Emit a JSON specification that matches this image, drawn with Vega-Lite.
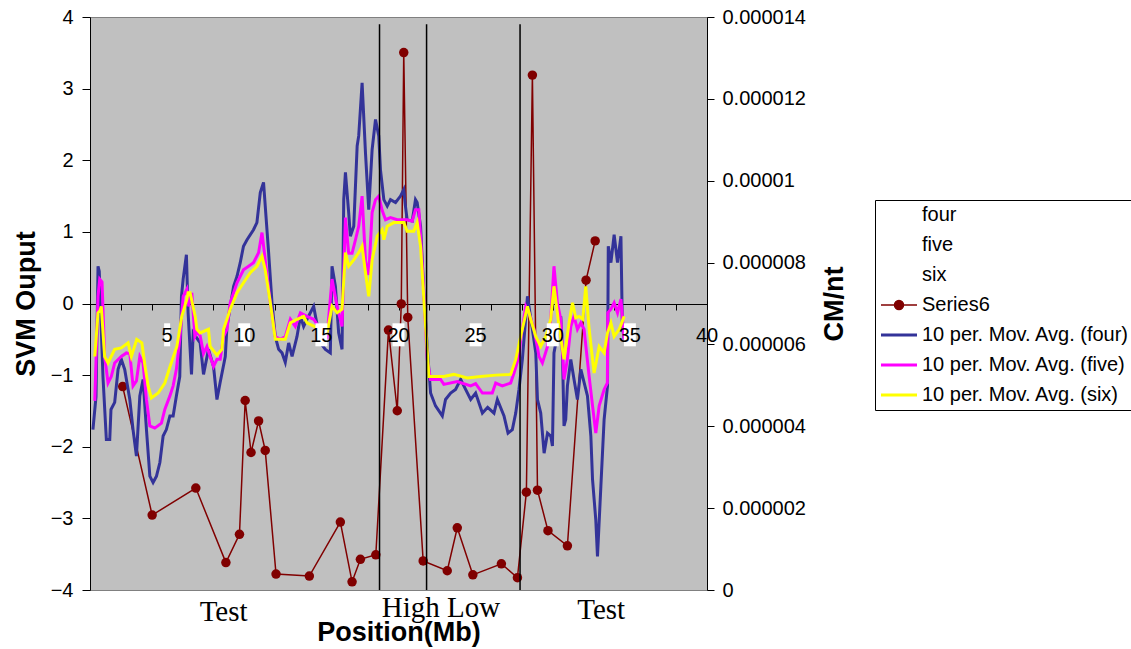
{
"$schema": "https://vega.github.io/schema/vega-lite/v6.json",
"width": 617, "height": 573,
"autosize": {"type": "none"},
"padding": {"left": 90, "top": 17, "right": 424, "bottom": 59},
"background": "white",
"config": {
 "view": {"fill": "#C0C0C0", "stroke": "#808080", "strokeWidth": 1},
 "font": "Liberation Sans",
 "axis": {"labelFont": "Liberation Sans", "titleFont": "Liberation Sans", "labelColor": "black", "titleColor": "black", "tickColor": "black", "domainColor": "black", "labelFlush": false, "labelOverlap": false},
 "axisX": {"offset": -286, "values": [5, 10, 15, 20, 25, 30, 35, 40], "labels": false, "tickSize": 6, "grid": false, "titleFontSize": 27, "titleFontWeight": "bold", "titleY": 336, "titleBaseline": "alphabetic"},
 "axisLeft": {"titleFontSize": 27, "titleFontWeight": "bold", "titlePadding": 10, "labelFontSize": 20, "tickSize": 8, "labelPadding": 9, "grid": true, "gridWidth": 1},
 "legend": {"orient": "none", "legendX": 785, "legendY": 183, "title": null, "symbolType": "stroke", "symbolSize": 144, "symbolStrokeWidth": 3, "labelFont": "Liberation Sans", "labelFontSize": 20, "labelColor": "black", "labelLimit": 500, "labelOffset": 13, "strokeColor": "black", "fillColor": "white", "padding": 5, "rowPadding": 10, "symbolOffset": 9}
},
"datasets": {
 "s6": [
  {"x":2.12,"cm":0.00000497},{"x":4.03,"cm":0.00000183},{"x":6.86,"cm":0.00000249},{"x":8.81,"cm":0.00000067},{"x":9.69,"cm":0.00000136},{"x":10.06,"cm":0.00000463},{"x":10.44,"cm":0.00000336},{"x":10.93,"cm":0.00000413},{"x":11.36,"cm":0.00000341},{"x":12.06,"cm":0.00000039},{"x":14.22,"cm":0.00000034},{"x":16.23,"cm":0.00000166},{"x":16.99,"cm":0.0000002},{"x":17.53,"cm":0.00000075},{"x":18.53,"cm":0.00000086},{"x":19.35,"cm":0.00000635},{"x":19.92,"cm":0.00000438},{"x":20.18,"cm":0.00000699},{"x":20.34,"cm":0.00001313},{"x":20.6,"cm":0.00000666},{"x":21.6,"cm":0.00000071},{"x":23.16,"cm":0.00000047},{"x":23.81,"cm":0.00000152},{"x":24.82,"cm":0.00000037},{"x":26.67,"cm":0.00000064},{"x":27.71,"cm":0.0000003},{"x":28.29,"cm":0.00000239},{"x":28.68,"cm":0.00001258},{"x":29.01,"cm":0.00000244},{"x":29.69,"cm":0.00000145},{"x":30.95,"cm":0.00000108},{"x":32.16,"cm":0.00000757},{"x":32.75,"cm":0.00000853}
 ],
 "ma": [
  {"s":"ma4","x":0.19,"y":-1.76},{"s":"ma4","x":0.39,"y":-1.3},{"s":"ma4","x":0.52,"y":0.52},{"s":"ma4","x":0.6,"y":0.45},{"s":"ma4","x":0.84,"y":-1.02},{"s":"ma4","x":1.06,"y":-1.9},{"s":"ma4","x":1.28,"y":-1.9},{"s":"ma4","x":1.36,"y":-1.48},{"s":"ma4","x":1.6,"y":-1.38},{"s":"ma4","x":1.82,"y":-0.92},{"s":"ma4","x":2.03,"y":-0.78},{"s":"ma4","x":2.25,"y":-0.92},{"s":"ma4","x":2.58,"y":-1.34},{"s":"ma4","x":2.79,"y":-1.76},{"s":"ma4","x":3.01,"y":-2.13},{"s":"ma4","x":3.23,"y":-1.29},{"s":"ma4","x":3.44,"y":-1.06},{"s":"ma4","x":3.66,"y":-1.76},{"s":"ma4","x":3.88,"y":-2.41},{"s":"ma4","x":4.09,"y":-2.5},{"s":"ma4","x":4.31,"y":-2.41},{"s":"ma4","x":4.53,"y":-2.22},{"s":"ma4","x":4.74,"y":-1.85},{"s":"ma4","x":4.95,"y":-1.76},{"s":"ma4","x":5.18,"y":-1.57},{"s":"ma4","x":5.39,"y":-1.57},{"s":"ma4","x":5.6,"y":-1.29},{"s":"ma4","x":5.82,"y":-1.02},{"s":"ma4","x":5.93,"y":0.1},{"s":"ma4","x":6.04,"y":0.34},{"s":"ma4","x":6.25,"y":0.68},{"s":"ma4","x":6.36,"y":-0.13},{"s":"ma4","x":6.58,"y":-0.99},{"s":"ma4","x":6.69,"y":-0.41},{"s":"ma4","x":7.14,"y":-0.55},{"s":"ma4","x":7.36,"y":-0.99},{"s":"ma4","x":7.68,"y":-0.64},{"s":"ma4","x":8.01,"y":-0.88},{"s":"ma4","x":8.23,"y":-1.34},{"s":"ma4","x":8.44,"y":-1.1},{"s":"ma4","x":8.77,"y":-0.74},{"s":"ma4","x":8.88,"y":-0.32},{"s":"ma4","x":9.31,"y":0.24},{"s":"ma4","x":9.53,"y":0.38},{"s":"ma4","x":9.74,"y":0.57},{"s":"ma4","x":9.95,"y":0.8},{"s":"ma4","x":10.18,"y":0.89},{"s":"ma4","x":10.6,"y":1.03},{"s":"ma4","x":10.82,"y":1.13},{"s":"ma4","x":11.04,"y":1.55},{"s":"ma4","x":11.25,"y":1.69},{"s":"ma4","x":11.58,"y":0.71},{"s":"ma4","x":11.8,"y":0.01},{"s":"ma4","x":12.01,"y":-0.46},{"s":"ma4","x":12.23,"y":-0.64},{"s":"ma4","x":12.45,"y":-0.69},{"s":"ma4","x":12.66,"y":-0.82},{"s":"ma4","x":12.88,"y":-0.55},{"s":"ma4","x":13.1,"y":-0.74},{"s":"ma4","x":13.42,"y":-0.46},{"s":"ma4","x":13.64,"y":-0.18},{"s":"ma4","x":13.85,"y":-0.32},{"s":"ma4","x":14.07,"y":-0.22},{"s":"ma4","x":14.5,"y":-0.04},{"s":"ma4","x":14.94,"y":-0.55},{"s":"ma4","x":15.26,"y":-0.64},{"s":"ma4","x":15.58,"y":-0.69},{"s":"ma4","x":15.69,"y":0.52},{"s":"ma4","x":15.91,"y":0.24},{"s":"ma4","x":16.12,"y":-0.41},{"s":"ma4","x":16.34,"y":-0.64},{"s":"ma4","x":16.45,"y":1.45},{"s":"ma4","x":16.56,"y":1.83},{"s":"ma4","x":16.77,"y":1.27},{"s":"ma4","x":16.88,"y":0.94},{"s":"ma4","x":17.1,"y":1.08},{"s":"ma4","x":17.32,"y":2.2},{"s":"ma4","x":17.42,"y":2.34},{"s":"ma4","x":17.64,"y":3.08},{"s":"ma4","x":17.86,"y":2.1},{"s":"ma4","x":18.07,"y":1.31},{"s":"ma4","x":18.29,"y":2.15},{"s":"ma4","x":18.51,"y":2.57},{"s":"ma4","x":18.72,"y":2.34},{"s":"ma4","x":18.83,"y":1.87},{"s":"ma4","x":19.05,"y":1.45},{"s":"ma4","x":19.27,"y":1.36},{"s":"ma4","x":19.48,"y":1.45},{"s":"ma4","x":19.81,"y":1.41},{"s":"ma4","x":20.13,"y":1.5},{"s":"ma4","x":20.34,"y":1.59},{"s":"ma4","x":20.45,"y":1.36},{"s":"ma4","x":20.56,"y":1.17},{"s":"ma4","x":20.89,"y":1.15},{"s":"ma4","x":21.1,"y":1.45},{"s":"ma4","x":21.21,"y":1.41},{"s":"ma4","x":21.43,"y":1.08},{"s":"ma4","x":21.64,"y":0.15},{"s":"ma4","x":21.86,"y":-0.6},{"s":"ma4","x":22.08,"y":-1.25},{"s":"ma4","x":22.4,"y":-1.43},{"s":"ma4","x":22.84,"y":-1.57},{"s":"ma4","x":23.05,"y":-1.34},{"s":"ma4","x":23.38,"y":-1.25},{"s":"ma4","x":23.7,"y":-1.2},{"s":"ma4","x":24.03,"y":-1.06},{"s":"ma4","x":24.35,"y":-1.2},{"s":"ma4","x":24.68,"y":-1.34},{"s":"ma4","x":25.0,"y":-1.25},{"s":"ma4","x":25.44,"y":-1.53},{"s":"ma4","x":25.78,"y":-1.45},{"s":"ma4","x":26.19,"y":-1.53},{"s":"ma4","x":26.41,"y":-1.34},{"s":"ma4","x":26.84,"y":-1.57},{"s":"ma4","x":27.1,"y":-1.81},{"s":"ma4","x":27.38,"y":-1.76},{"s":"ma4","x":27.6,"y":-1.53},{"s":"ma4","x":27.81,"y":-1.2},{"s":"ma4","x":28.03,"y":-0.78},{"s":"ma4","x":28.36,"y":0.1},{"s":"ma4","x":28.68,"y":-0.36},{"s":"ma4","x":28.9,"y":-0.69},{"s":"ma4","x":29.01,"y":-1.34},{"s":"ma4","x":29.22,"y":-1.53},{"s":"ma4","x":29.44,"y":-2.09},{"s":"ma4","x":29.66,"y":-1.81},{"s":"ma4","x":29.87,"y":-1.85},{"s":"ma4","x":29.98,"y":-1.99},{"s":"ma4","x":30.08,"y":-0.69},{"s":"ma4","x":30.52,"y":-0.18},{"s":"ma4","x":30.63,"y":-0.69},{"s":"ma4","x":30.73,"y":-1.71},{"s":"ma4","x":30.84,"y":-1.62},{"s":"ma4","x":30.95,"y":-1.15},{"s":"ma4","x":31.17,"y":-0.78},{"s":"ma4","x":31.38,"y":-1.06},{"s":"ma4","x":31.6,"y":-1.34},{"s":"ma4","x":31.82,"y":-0.92},{"s":"ma4","x":32.25,"y":-1.29},{"s":"ma4","x":32.47,"y":-1.85},{"s":"ma4","x":32.58,"y":-2.46},{"s":"ma4","x":32.79,"y":-3.02},{"s":"ma4","x":32.9,"y":-3.53},{"s":"ma4","x":33.12,"y":-2.55},{"s":"ma4","x":33.33,"y":-1.62},{"s":"ma4","x":33.55,"y":-1.15},{"s":"ma4","x":33.6,"y":0.8},{"s":"ma4","x":33.77,"y":0.57},{"s":"ma4","x":33.98,"y":0.96},{"s":"ma4","x":34.2,"y":0.57},{"s":"ma4","x":34.42,"y":0.94},{"s":"ma4","x":34.51,"y":-0.3},{"s":"ma4","x":34.63,"y":-0.5},
  {"s":"ma5","x":0.31,"y":-1.36},{"s":"ma5","x":0.52,"y":0.1},{"s":"ma5","x":0.63,"y":0.34},{"s":"ma5","x":0.78,"y":0.3},{"s":"ma5","x":0.95,"y":-0.74},{"s":"ma5","x":1.17,"y":-1.11},{"s":"ma5","x":1.38,"y":-1.02},{"s":"ma5","x":1.6,"y":-0.83},{"s":"ma5","x":2.03,"y":-0.74},{"s":"ma5","x":2.36,"y":-0.69},{"s":"ma5","x":2.58,"y":-0.7},{"s":"ma5","x":2.79,"y":-1.15},{"s":"ma5","x":3.01,"y":-1.08},{"s":"ma5","x":3.23,"y":-0.74},{"s":"ma5","x":3.44,"y":-0.83},{"s":"ma5","x":3.66,"y":-1.34},{"s":"ma5","x":3.88,"y":-1.71},{"s":"ma5","x":4.2,"y":-1.74},{"s":"ma5","x":4.63,"y":-1.67},{"s":"ma5","x":4.85,"y":-1.48},{"s":"ma5","x":5.18,"y":-1.29},{"s":"ma5","x":5.39,"y":-1.15},{"s":"ma5","x":5.6,"y":-0.92},{"s":"ma5","x":5.82,"y":-0.5},{"s":"ma5","x":6.04,"y":0.1},{"s":"ma5","x":6.28,"y":0.2},{"s":"ma5","x":6.4,"y":-0.04},{"s":"ma5","x":6.6,"y":0.15},{"s":"ma5","x":6.8,"y":-0.46},{"s":"ma5","x":6.93,"y":-0.4},{"s":"ma5","x":7.14,"y":-0.45},{"s":"ma5","x":7.36,"y":-0.7},{"s":"ma5","x":7.58,"y":-0.6},{"s":"ma5","x":7.79,"y":-0.74},{"s":"ma5","x":8.01,"y":-0.88},{"s":"ma5","x":8.23,"y":-0.78},{"s":"ma5","x":8.44,"y":-0.78},{"s":"ma5","x":8.66,"y":-0.46},{"s":"ma5","x":8.88,"y":-0.36},{"s":"ma5","x":9.09,"y":0.01},{"s":"ma5","x":9.53,"y":0.29},{"s":"ma5","x":9.95,"y":0.47},{"s":"ma5","x":10.28,"y":0.52},{"s":"ma5","x":10.6,"y":0.57},{"s":"ma5","x":10.93,"y":0.71},{"s":"ma5","x":11.15,"y":0.99},{"s":"ma5","x":11.36,"y":0.61},{"s":"ma5","x":11.69,"y":0.01},{"s":"ma5","x":12.01,"y":-0.46},{"s":"ma5","x":12.34,"y":-0.5},{"s":"ma5","x":12.66,"y":-0.46},{"s":"ma5","x":12.99,"y":-0.22},{"s":"ma5","x":13.31,"y":-0.32},{"s":"ma5","x":13.64,"y":-0.13},{"s":"ma5","x":14.07,"y":-0.18},{"s":"ma5","x":14.5,"y":-0.22},{"s":"ma5","x":14.94,"y":-0.36},{"s":"ma5","x":15.37,"y":-0.46},{"s":"ma5","x":15.69,"y":0.34},{"s":"ma5","x":16.02,"y":-0.04},{"s":"ma5","x":16.34,"y":-0.32},{"s":"ma5","x":16.56,"y":1.2},{"s":"ma5","x":16.77,"y":0.7},{"s":"ma5","x":16.99,"y":0.7},{"s":"ma5","x":17.21,"y":0.89},{"s":"ma5","x":17.42,"y":1.08},{"s":"ma5","x":17.64,"y":1.5},{"s":"ma5","x":17.86,"y":0.6},{"s":"ma5","x":18.07,"y":0.4},{"s":"ma5","x":18.29,"y":1.27},{"s":"ma5","x":18.51,"y":1.45},{"s":"ma5","x":18.72,"y":1.5},{"s":"ma5","x":18.94,"y":1.3},{"s":"ma5","x":19.16,"y":1.17},{"s":"ma5","x":19.48,"y":1.2},{"s":"ma5","x":19.92,"y":1.17},{"s":"ma5","x":20.56,"y":1.17},{"s":"ma5","x":20.89,"y":1.15},{"s":"ma5","x":21.1,"y":1.31},{"s":"ma5","x":21.32,"y":1.31},{"s":"ma5","x":21.43,"y":0.94},{"s":"ma5","x":21.64,"y":0.15},{"s":"ma5","x":21.86,"y":-0.78},{"s":"ma5","x":22.08,"y":-1.06},{"s":"ma5","x":22.73,"y":-1.06},{"s":"ma5","x":22.94,"y":-1.13},{"s":"ma5","x":23.81,"y":-1.09},{"s":"ma5","x":24.68,"y":-1.15},{"s":"ma5","x":25.0,"y":-1.12},{"s":"ma5","x":25.44,"y":-1.25},{"s":"ma5","x":26.08,"y":-1.25},{"s":"ma5","x":26.3,"y":-1.11},{"s":"ma5","x":26.73,"y":-1.15},{"s":"ma5","x":27.27,"y":-1.11},{"s":"ma5","x":27.49,"y":-0.97},{"s":"ma5","x":27.81,"y":-0.74},{"s":"ma5","x":27.92,"y":-0.5},{"s":"ma5","x":28.25,"y":-0.04},{"s":"ma5","x":28.46,"y":-0.13},{"s":"ma5","x":28.79,"y":-0.36},{"s":"ma5","x":29.11,"y":-0.74},{"s":"ma5","x":29.33,"y":-0.83},{"s":"ma5","x":29.66,"y":-0.6},{"s":"ma5","x":29.87,"y":-0.22},{"s":"ma5","x":30.08,"y":0.52},{"s":"ma5","x":30.3,"y":0.01},{"s":"ma5","x":30.52,"y":-0.22},{"s":"ma5","x":30.73,"y":-1.06},{"s":"ma5","x":30.95,"y":-0.78},{"s":"ma5","x":31.17,"y":-0.32},{"s":"ma5","x":31.38,"y":-0.18},{"s":"ma5","x":31.6,"y":-0.36},{"s":"ma5","x":31.82,"y":-0.27},{"s":"ma5","x":32.03,"y":-0.36},{"s":"ma5","x":32.36,"y":-1.02},{"s":"ma5","x":32.58,"y":-1.43},{"s":"ma5","x":32.79,"y":-1.81},{"s":"ma5","x":33.01,"y":-1.43},{"s":"ma5","x":33.33,"y":-1.2},{"s":"ma5","x":33.54,"y":-1.11},{"s":"ma5","x":33.57,"y":-0.13},{"s":"ma5","x":33.77,"y":-0.08},{"s":"ma5","x":33.98,"y":0.01},{"s":"ma5","x":34.2,"y":-0.13},{"s":"ma5","x":34.42,"y":0.06},{"s":"ma5","x":34.63,"y":-0.5},
  {"s":"ma6","x":0.31,"y":-0.74},{"s":"ma6","x":0.52,"y":-0.13},{"s":"ma6","x":0.65,"y":-0.1},{"s":"ma6","x":0.73,"y":-0.04},{"s":"ma6","x":0.95,"y":-0.74},{"s":"ma6","x":1.17,"y":-0.83},{"s":"ma6","x":1.6,"y":-0.64},{"s":"ma6","x":2.03,"y":-0.62},{"s":"ma6","x":2.47,"y":-0.55},{"s":"ma6","x":2.68,"y":-0.74},{"s":"ma6","x":3.03,"y":-0.5},{"s":"ma6","x":3.36,"y":-0.55},{"s":"ma6","x":3.57,"y":-0.88},{"s":"ma6","x":3.77,"y":-1.15},{"s":"ma6","x":3.98,"y":-1.32},{"s":"ma6","x":4.42,"y":-1.25},{"s":"ma6","x":4.85,"y":-1.11},{"s":"ma6","x":5.19,"y":-0.88},{"s":"ma6","x":5.63,"y":-0.6},{"s":"ma6","x":5.95,"y":-0.18},{"s":"ma6","x":6.28,"y":0.06},{"s":"ma6","x":6.36,"y":0.15},{"s":"ma6","x":6.49,"y":0.15},{"s":"ma6","x":6.82,"y":-0.18},{"s":"ma6","x":6.93,"y":-0.36},{"s":"ma6","x":7.14,"y":-0.41},{"s":"ma6","x":7.68,"y":-0.36},{"s":"ma6","x":7.79,"y":-0.6},{"s":"ma6","x":8.23,"y":-0.72},{"s":"ma6","x":8.55,"y":-0.64},{"s":"ma6","x":8.66,"y":-0.36},{"s":"ma6","x":9.09,"y":-0.08},{"s":"ma6","x":9.53,"y":0.15},{"s":"ma6","x":9.95,"y":0.29},{"s":"ma6","x":10.39,"y":0.43},{"s":"ma6","x":10.82,"y":0.52},{"s":"ma6","x":11.15,"y":0.66},{"s":"ma6","x":11.36,"y":0.47},{"s":"ma6","x":11.69,"y":0.01},{"s":"ma6","x":12.01,"y":-0.5},{"s":"ma6","x":12.66,"y":-0.5},{"s":"ma6","x":12.99,"y":-0.27},{"s":"ma6","x":13.42,"y":-0.22},{"s":"ma6","x":13.85,"y":-0.18},{"s":"ma6","x":14.07,"y":-0.27},{"s":"ma6","x":14.94,"y":-0.36},{"s":"ma6","x":15.37,"y":-0.41},{"s":"ma6","x":15.69,"y":-0.04},{"s":"ma6","x":16.02,"y":-0.13},{"s":"ma6","x":16.34,"y":-0.08},{"s":"ma6","x":16.56,"y":0.71},{"s":"ma6","x":16.77,"y":0.52},{"s":"ma6","x":17.1,"y":0.61},{"s":"ma6","x":17.42,"y":0.71},{"s":"ma6","x":17.64,"y":0.8},{"s":"ma6","x":17.86,"y":0.43},{"s":"ma6","x":18.07,"y":0.1},{"s":"ma6","x":18.29,"y":0.61},{"s":"ma6","x":18.62,"y":0.94},{"s":"ma6","x":18.94,"y":1.03},{"s":"ma6","x":19.05,"y":0.89},{"s":"ma6","x":19.27,"y":1.08},{"s":"ma6","x":19.7,"y":1.13},{"s":"ma6","x":20.34,"y":1.13},{"s":"ma6","x":20.56,"y":1.01},{"s":"ma6","x":20.99,"y":1.01},{"s":"ma6","x":21.21,"y":1.13},{"s":"ma6","x":21.43,"y":0.8},{"s":"ma6","x":21.69,"y":-0.1},{"s":"ma6","x":21.97,"y":-1.02},{"s":"ma6","x":22.94,"y":-1.02},{"s":"ma6","x":23.59,"y":-0.99},{"s":"ma6","x":24.46,"y":-1.04},{"s":"ma6","x":25.32,"y":-1.02},{"s":"ma6","x":26.3,"y":-1.0},{"s":"ma6","x":27.27,"y":-0.99},{"s":"ma6","x":27.6,"y":-0.78},{"s":"ma6","x":27.92,"y":-0.46},{"s":"ma6","x":28.36,"y":-0.04},{"s":"ma6","x":28.57,"y":-0.22},{"s":"ma6","x":28.9,"y":-0.46},{"s":"ma6","x":29.22,"y":-0.6},{"s":"ma6","x":29.55,"y":-0.46},{"s":"ma6","x":29.87,"y":-0.22},{"s":"ma6","x":30.08,"y":0.24},{"s":"ma6","x":30.41,"y":-0.32},{"s":"ma6","x":30.73,"y":-0.78},{"s":"ma6","x":31.06,"y":-0.27},{"s":"ma6","x":31.28,"y":0.01},{"s":"ma6","x":31.49,"y":-0.2},{"s":"ma6","x":31.71,"y":-0.18},{"s":"ma6","x":31.95,"y":-0.22},{"s":"ma6","x":32.14,"y":0.24},{"s":"ma6","x":32.36,"y":-0.36},{"s":"ma6","x":32.68,"y":-0.97},{"s":"ma6","x":33.01,"y":-0.6},{"s":"ma6","x":33.33,"y":-0.69},{"s":"ma6","x":33.55,"y":-0.41},{"s":"ma6","x":33.77,"y":-0.27},{"s":"ma6","x":33.98,"y":-0.46},{"s":"ma6","x":34.31,"y":-0.36},{"s":"ma6","x":34.63,"y":-0.18}
 ],
 "bounds": [{"x": 18.77}, {"x": 21.82}, {"x": 27.88}],
 "ticks": [{"x":5,"label":"5"},{"x":10,"label":"10"},{"x":15,"label":"15"},{"x":20,"label":"20"},{"x":25,"label":"25"},{"x":30,"label":"30"},{"x":35,"label":"35"},{"x":40,"label":"40"}],
 "notes": [{"x": 8.66, "y": -4.43, "t": "Test"}, {"x": 22.76, "y": -4.37, "t": "High Low"}, {"x": 33.14, "y": -4.4, "t": "Test"}]
},
"encoding": {
 "x": {"field": "x", "type": "quantitative", "scale": {"domain": [0, 40], "nice": false, "zero": false}, "axis": {"title": "Position(Mb)"}}
},
"layer": [
 {
  "data": {"name": "s6"},
  "mark": {"type": "line", "strokeWidth": 1.5, "point": {"filled": true, "size": 90}},
  "encoding": {
   "y": {"field": "cm", "type": "quantitative", "scale": {"domain": [0, 0.000014], "nice": false, "zero": false},
    "axis": {"orient": "right", "title": "CM/nt", "titleFontSize": 27, "titleFontWeight": "bold", "titleAngle": 270, "titleBaseline": "top", "titlePadding": 16, "values": [0, 0.000002, 0.000004, 0.000006, 0.000008, 0.00001, 0.000012, 0.000014], "format": ".6~f", "labelFontSize": 20, "tickSize": 7, "labelPadding": 8, "grid": false}},
   "color": {"datum": "Series6", "type": "nominal",
    "scale": {"domain": ["four", "five", "six", "Series6", "ma4", "ma5", "ma6"], "range": ["transparent", "transparent", "transparent", "#800000", "#333399", "#FF00FF", "#FFFF00"]},
    "legend": {"title": null,
     "labelExpr": "datum.value === 'ma4' ? '10 per. Mov. Avg. (four)' : datum.value === 'ma5' ? '10 per. Mov. Avg. (five)' : datum.value === 'ma6' ? '10 per. Mov. Avg. (six)' : datum.value",
     "encode": {"symbols": {"update": {
      "shape": {"signal": "datum.value === 'Series6' ? 'M-3,0H3M-0.75,0A0.75,0.75,0,1,0,0.75,0A0.75,0.75,0,1,0,-0.75,0' : 'M-3,0H3'"},
      "fill": {"signal": "datum.value === 'Series6' ? '#800000' : 'transparent'"},
      "strokeWidth": {"signal": "datum.value === 'Series6' ? 1.5 : 3"}
     }}}}
   }
  }
 },
 {
  "layer": [
   {
    "data": {"name": "ma"},
    "mark": {"type": "line", "strokeWidth": 3},
    "encoding": {
     "y": {"field": "y", "type": "quantitative", "scale": {"domain": [-4, 4], "nice": false, "zero": false},
      "axis": {"title": "SVM Ouput", "values": [-4, -3, -2, -1, 0, 1, 2, 3, 4], "gridColor": {"condition": {"test": "abs(datum.value) == 4", "value": "transparent"}, "value": "black"}}},
     "color": {"field": "s", "type": "nominal", "scale": {"domain": ["four", "five", "six", "Series6", "ma4", "ma5", "ma6"], "range": ["transparent", "transparent", "transparent", "#800000", "#333399", "#FF00FF", "#FFFF00"]}, "legend": {"title": null}}
    }
   },
   {
    "data": {"name": "bounds"},
    "mark": {"type": "rule", "color": "black", "strokeWidth": 1.5},
    "encoding": {
     "y": {"datum": 3.9, "type": "quantitative", "scale": {"domain": [-4, 4], "nice": false, "zero": false},
      "axis": {"title": "SVM Ouput", "values": [-4, -3, -2, -1, 0, 1, 2, 3, 4], "gridColor": {"condition": {"test": "abs(datum.value) == 4", "value": "transparent"}, "value": "black"}}},
     "y2": {"datum": -4}
    }
   },
   {
    "data": {"name": "ticks"},
    "transform": [{"filter": "datum.x < 10"}],
    "mark": {"type": "point", "shape": "M-0.26,-1H0.26V1H-0.26Z", "filled": true, "color": "white", "fill": "white", "opacity": 1, "size": 529},
    "encoding": {
     "y": {"datum": -0.437, "type": "quantitative", "scale": {"domain": [-4, 4], "nice": false, "zero": false},
      "axis": {"title": "SVM Ouput", "values": [-4, -3, -2, -1, 0, 1, 2, 3, 4], "gridColor": {"condition": {"test": "abs(datum.value) == 4", "value": "transparent"}, "value": "black"}}}
    }
   },
   {
    "data": {"name": "ticks"},
    "transform": [{"filter": "datum.x >= 10 && datum.x < 40"}],
    "mark": {"type": "point", "shape": "M-0.52,-1H0.52V1H-0.52Z", "filled": true, "color": "white", "fill": "white", "opacity": 1, "size": 529},
    "encoding": {
     "y": {"datum": -0.437, "type": "quantitative", "scale": {"domain": [-4, 4], "nice": false, "zero": false},
      "axis": {"title": "SVM Ouput", "values": [-4, -3, -2, -1, 0, 1, 2, 3, 4], "gridColor": {"condition": {"test": "abs(datum.value) == 4", "value": "transparent"}, "value": "black"}}}
    }
   },
   {
    "data": {"name": "ticks"},
    "mark": {"type": "text", "font": "Liberation Sans", "fontSize": 20, "color": "black", "align": "center", "baseline": "middle", "dy": 1},
    "encoding": {
     "y": {"datum": -0.44, "type": "quantitative", "scale": {"domain": [-4, 4], "nice": false, "zero": false},
      "axis": {"title": "SVM Ouput", "values": [-4, -3, -2, -1, 0, 1, 2, 3, 4], "gridColor": {"condition": {"test": "abs(datum.value) == 4", "value": "transparent"}, "value": "black"}}},
     "text": {"field": "label"}
    }
   },
   {
    "data": {"name": "notes"},
    "mark": {"type": "text", "font": "Liberation Serif", "fontSize": 29, "color": "black", "align": "center", "baseline": "alphabetic"},
    "encoding": {
     "y": {"field": "y", "type": "quantitative", "scale": {"domain": [-4, 4], "nice": false, "zero": false},
      "axis": {"title": "SVM Ouput", "values": [-4, -3, -2, -1, 0, 1, 2, 3, 4], "gridColor": {"condition": {"test": "abs(datum.value) == 4", "value": "transparent"}, "value": "black"}}},
     "text": {"field": "t"}
    }
   }
  ]
 }
],
"resolve": {"scale": {"y": "independent"}, "axis": {"y": "independent"}}
}
